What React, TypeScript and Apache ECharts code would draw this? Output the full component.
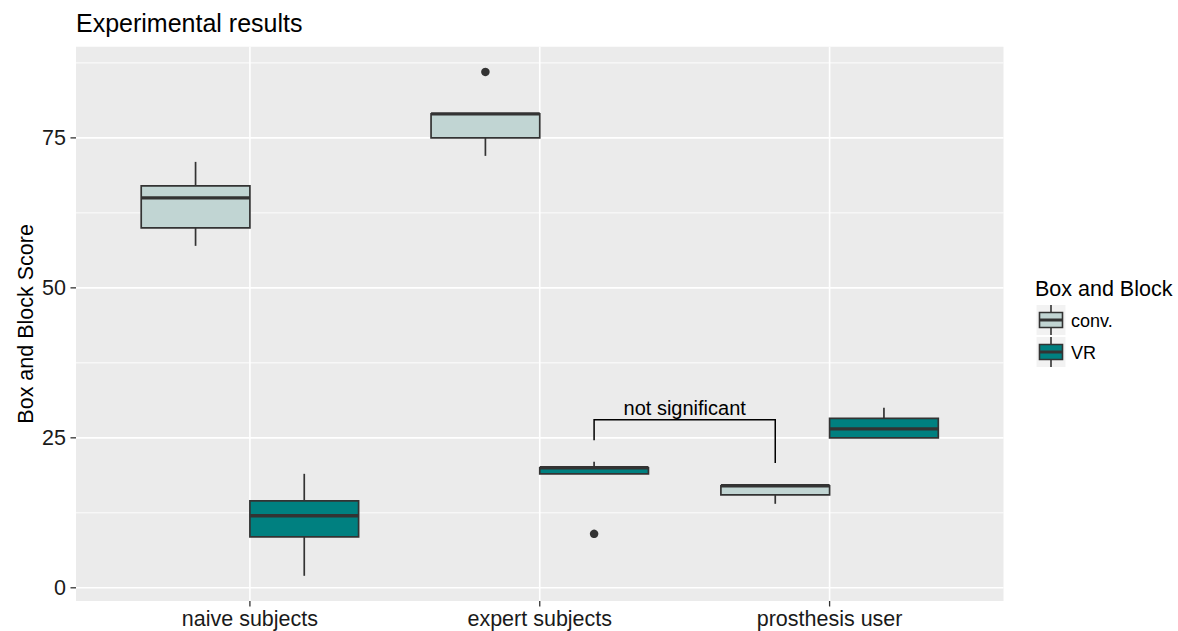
import React, { useEffect, useRef } from 'react';
import * as echarts from 'echarts';

// ---------------- data ----------------
const categories = ['naive subjects', 'expert subjects', 'prosthesis user'];
const groups = ['conv.', 'VR'];
// [lower whisker, Q1, median, Q3, upper whisker]
const convStats = [
  [57, 60, 65, 67, 71],
  [72, 75, 79, 79, 79],
  [14, 15.5, 17, 17, 17],
];
const vrStats = [
  [2, 8.5, 12, 14.5, 19],
  [19, 19, 20, 20, 21],
  [25, 25, 26.5, 28.25, 30],
];
// [category index, value]
const convOutliers = [[1, 86]];
const vrOutliers = [[1, 9]];
const yTicks = [0, 25, 50, 75];
const yMinorTicks = [12.5, 37.5, 62.5, 87.5];
// bracket: from (category, group) to (category, group); y values: left end, top, right end
const bracketFrom = [1, 1];
const bracketTo = [2, 0];
const bracketY = [24.6, 28, 20.8];
const bracketLabel = 'not significant';

// ---------------- layout / style ----------------
const FONT = "'Liberation Sans', Arial, Helvetica, sans-serif";
const X_MIN = 0.4;
const X_MAX = 3.6;
const Y_MIN = -2.2;
const Y_MAX = 90.2;
const DODGE = 0.1875;
const BOX_W = 0.375;
const COLORS = ['#C1D5D3', '#008080'];
const EDGE = '#333333';
const GRID_L = 76;
const GRID_R = 1178 - 1003.5;
const GRID_T = 46.7;
const GRID_B = 631 - 601;
const TICK_LEN = 5.5;

const xPos = (cat: number, grp: number) => cat + 1 + (grp === 0 ? -DODGE : DODGE);

const boxRender = (fill: string) => (params: any, api: any) => {
  const x = api.value(0);
  const lo = api.value(1);
  const q1 = api.value(2);
  const med = api.value(3);
  const q3 = api.value(4);
  const hi = api.value(5);
  const h = BOX_W / 2;
  const tl = api.coord([x - h, q3]);
  const br = api.coord([x + h, q1]);
  const c = (v: number) => api.coord([x, v]);
  const mL = api.coord([x - h, med]);
  const mR = api.coord([x + h, med]);
  const children: any[] = [];
  if (hi > q3) {
    children.push({ type: 'line', shape: { x1: c(hi)[0], y1: c(hi)[1], x2: c(q3)[0], y2: c(q3)[1] }, style: { stroke: EDGE, lineWidth: 1.7 } });
  }
  if (lo < q1) {
    children.push({ type: 'line', shape: { x1: c(q1)[0], y1: c(q1)[1], x2: c(lo)[0], y2: c(lo)[1] }, style: { stroke: EDGE, lineWidth: 1.7 } });
  }
  children.push({
    type: 'rect',
    shape: { x: tl[0], y: tl[1], width: br[0] - tl[0], height: br[1] - tl[1] },
    style: { fill, stroke: EDGE, lineWidth: 1.7 },
  });
  children.push({ type: 'line', shape: { x1: mL[0], y1: mL[1], x2: mR[0], y2: mR[1] }, style: { stroke: EDGE, lineWidth: 3.4 } });
  return { type: 'group', children };
};

function staticGraphics(): any[] {
  const legendChildren: any[] = [
    {
      type: 'text',
      x: 1035,
      y: 288.5,
      style: { text: 'Box and Block', fontSize: 21.5, fontFamily: FONT, fill: '#000', align: 'left', verticalAlign: 'middle' },
    },
  ];
  groups.forEach((g, gi) => {
    const top = 305 + gi * 32;
    legendChildren.push({ type: 'rect', shape: { x: 1036.5, y: top, width: 29, height: 30 }, style: { fill: '#F2F2F2' } });
    legendChildren.push({ type: 'line', shape: { x1: 1051, y1: top, x2: 1051, y2: top + 30 }, style: { stroke: EDGE, lineWidth: 1.6 } });
    legendChildren.push({ type: 'rect', shape: { x: 1039.5, y: top + 7.5, width: 23, height: 15 }, style: { fill: COLORS[gi], stroke: EDGE, lineWidth: 1.6 } });
    legendChildren.push({ type: 'line', shape: { x1: 1039.5, y1: top + 15, x2: 1062.5, y2: top + 15 }, style: { stroke: EDGE, lineWidth: 3 } });
    legendChildren.push({
      type: 'text',
      x: 1071,
      y: top + 15.5,
      style: { text: g, fontSize: 18, fontFamily: FONT, fill: '#000', align: 'left', verticalAlign: 'middle' },
    });
  });
  return [
    {
      id: 'title',
      type: 'text',
      x: 76,
      y: 23,
      style: { text: 'Experimental results', fontSize: 25, fontFamily: FONT, fill: '#000', align: 'left', verticalAlign: 'middle' },
    },
    {
      id: 'ytitle',
      type: 'text',
      x: 26,
      y: (GRID_T + 631 - GRID_B) / 2,
      rotation: Math.PI / 2,
      style: { text: 'Box and Block Score', fontSize: 21.5, fontFamily: FONT, fill: '#000', align: 'center', verticalAlign: 'middle' },
    },
    { id: 'legend', type: 'group', children: legendChildren },
  ];
}

function buildOption() {
  const statsList = [convStats, vrStats];
  const outList = [convOutliers, vrOutliers];
  const boxSeries = groups.map((g, gi) => ({
    type: 'custom',
    name: g,
    z: 3,
    silent: true,
    renderItem: boxRender(COLORS[gi]),
    encode: { x: 0, y: [1, 2, 3, 4, 5] },
    data: statsList[gi].map((s, ci) => [xPos(ci, gi), ...s]),
  }));
  const outlierSeries = groups.map((g, gi) => ({
    type: 'scatter',
    name: g + ' outliers',
    z: 4,
    silent: true,
    symbol: 'circle',
    symbolSize: 8.5,
    itemStyle: { color: EDGE, opacity: 1 },
    data: outList[gi].map(([ci, v]) => [xPos(ci, gi), v]),
  }));

  const vGrid = {
    type: 'custom',
    z: 1,
    silent: true,
    renderItem: (params: any, api: any) => {
      const x = api.value(0);
      const a = api.coord([x, Y_MAX]);
      const b = api.coord([x, Y_MIN]);
      return { type: 'line', shape: { x1: a[0], y1: a[1], x2: b[0], y2: b[1] }, style: { stroke: '#FFFFFF', lineWidth: 1.6 } };
    },
    encode: { x: 0, y: 1 },
    data: categories.map((_, i) => [i + 1, 0]),
  };
  const hGrid = (vals: number[], w: number) => ({
    type: 'custom',
    z: 1,
    silent: true,
    renderItem: (params: any, api: any) => {
      const y = api.value(1);
      const a = api.coord([X_MIN, y]);
      const b = api.coord([X_MAX, y]);
      return { type: 'line', shape: { x1: a[0], y1: a[1], x2: b[0], y2: b[1] }, style: { stroke: '#FFFFFF', lineWidth: w } };
    },
    encode: { x: 0, y: 1 },
    data: vals.map((v) => [1, v]),
  });

  const bracket = {
    type: 'custom',
    z: 5,
    silent: true,
    renderItem: (params: any, api: any) => {
      const x1 = api.value(0);
      const x2 = api.value(1);
      const pL = api.coord([x1, api.value(2)]);
      const pLT = api.coord([x1, api.value(3)]);
      const pRT = api.coord([x2, api.value(3)]);
      const pR = api.coord([x2, api.value(4)]);
      const mid = api.coord([(x1 + x2) / 2, api.value(3)]);
      return {
        type: 'group',
        children: [
          { type: 'polyline', shape: { points: [pL, pLT, pRT, pR] }, style: { stroke: '#000', lineWidth: 1.5, fill: 'none' } },
          {
            type: 'text',
            x: mid[0],
            y: mid[1] - 2,
            style: { text: bracketLabel, fontSize: 20, fontFamily: FONT, fill: '#000', align: 'center', verticalAlign: 'bottom' },
          },
        ],
      };
    },
    encode: { x: [0, 1], y: [2, 3, 4] },
    data: [[xPos(bracketFrom[0], bracketFrom[1]), xPos(bracketTo[0], bracketTo[1]), ...bracketY]],
  };

  return {
    animation: false,
    backgroundColor: '#FFFFFF',
    textStyle: { fontFamily: FONT },
    grid: {
      left: GRID_L,
      right: GRID_R,
      top: GRID_T,
      bottom: GRID_B,
      show: true,
      backgroundColor: '#EBEBEB',
      borderWidth: 0,
      containLabel: false,
    },
    xAxis: {
      type: 'value',
      min: X_MIN,
      max: X_MAX,
      axisLine: { show: false },
      splitLine: { show: false },
      axisTick: { show: false },
      axisLabel: {
        show: true,
        customValues: categories.map((_, i) => i + 1),
        formatter: (v: number) => categories[Math.round(v) - 1] ?? '',
        fontSize: 21.5,
        color: '#1A1A1A',
        fontFamily: FONT,
        margin: 7,
      },
    },
    yAxis: {
      type: 'value',
      min: Y_MIN,
      max: Y_MAX,
      axisLine: { show: false },
      splitLine: { show: false },
      axisTick: { show: false },
      axisLabel: {
        show: true,
        customValues: yTicks,
        fontSize: 21.5,
        color: '#1A1A1A',
        fontFamily: FONT,
        margin: 10,
      },
    },
    graphic: staticGraphics(),
    series: [vGrid, hGrid(yTicks, 1.6), hGrid(yMinorTicks, 0.9), ...boxSeries, ...outlierSeries, bracket],
  };
}

export default function App() {
  const ref = useRef<HTMLDivElement>(null);
  useEffect(() => {
    if (!ref.current) return;
    const chart = echarts.init(ref.current, null, { renderer: 'svg' });
    chart.setOption(buildOption() as any);
    // axis tick marks placed through the chart's own scales
    const px = (x: number, y: number) => chart.convertToPixel({ gridIndex: 0 }, [x, y]) as number[];
    const tickEls: any[] = [];
    categories.forEach((_, i) => {
      const p = px(i + 1, Y_MIN);
      tickEls.push({ type: 'line', shape: { x1: p[0], y1: p[1], x2: p[0], y2: p[1] + TICK_LEN }, style: { stroke: EDGE, lineWidth: 1.3 } });
    });
    yTicks.forEach((v) => {
      const p = px(X_MIN, v);
      tickEls.push({ type: 'line', shape: { x1: p[0] - TICK_LEN, y1: p[1], x2: p[0], y2: p[1] }, style: { stroke: EDGE, lineWidth: 1.3 } });
    });
    chart.setOption({ graphic: [...staticGraphics(), { id: 'ticks', type: 'group', children: tickEls }] } as any);
    return () => chart.dispose();
  }, []);
  return (
    <div
      ref={ref}
      style={{ position: 'fixed', left: 0, top: 0, width: 1178, height: 631, background: '#FFFFFF' }}
    />
  );
}
